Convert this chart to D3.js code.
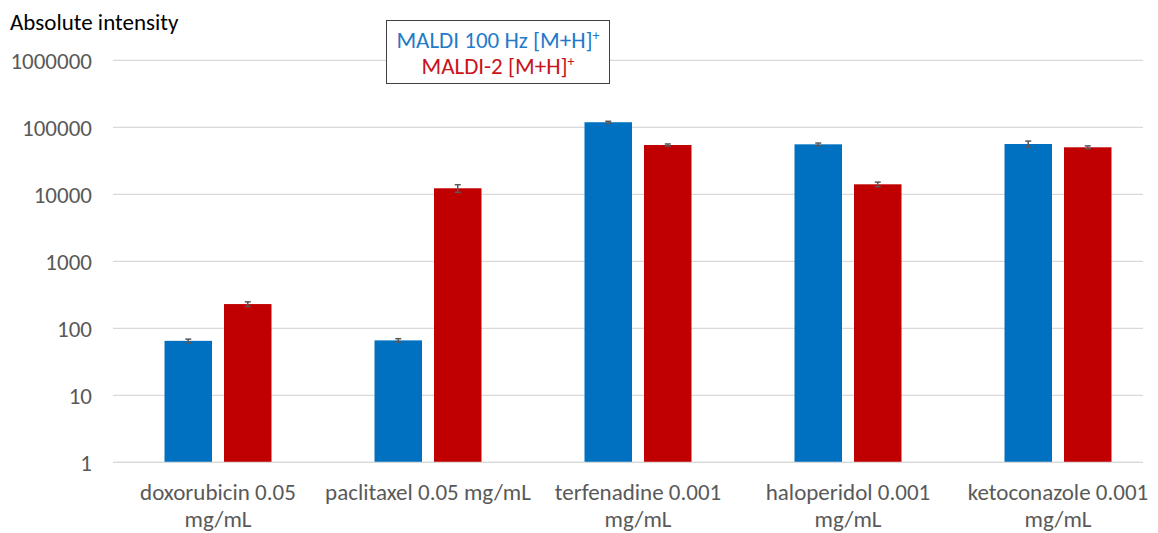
<!DOCTYPE html>
<html>
<head>
<meta charset="utf-8">
<script src="https://cdn.jsdelivr.net/npm/d3@7"></script>
<style>
  html, body { margin: 0; padding: 0; background: #fff; }
  svg { display: block; }
  text { font-family: Carlito, Lato, "Open Sans", sans-serif; }
</style>
</head>
<body>
<svg id="chart" width="1158" height="533"></svg>
<script>
// Compounds on the x axis (each entry is the label split into its lines)
const categories = [
  ["doxorubicin 0.05", "mg/mL"],
  ["paclitaxel 0.05 mg/mL"],
  ["terfenadine 0.001", "mg/mL"],
  ["haloperidol 0.001", "mg/mL"],
  ["ketoconazole 0.001", "mg/mL"]
];
const seriesNames = ["MALDI 100 Hz [M+H]", "MALDI-2 [M+H]"];
const seriesColors = ["#0070C0", "#C00000"];
const legendTextColors = ["#1F7BC9", "#C8141B"];

// Mean absolute intensities and their standard deviations
const maldiValues  = [65, 66, 119000, 55700, 56300];
const maldiErrors  = [4, 4, 4000, 2500, 6000];
const maldi2Values = [230, 12300, 54400, 14100, 50300];
const maldi2Errors = [18, 1600, 2000, 1100, 2500];

const yTicks = [1, 10, 100, 1000, 10000, 100000, 1000000];
const yTitle = "Absolute intensity";

const svg = d3.select("#chart");
const plot = { left: 113, right: 1163, top: 60.3, bottom: 462.3, gridEnd: 1143 };
const fontSize = 23;

const x = d3.scaleBand()
  .domain(d3.range(categories.length))
  .range([plot.left, plot.right]);

const xInner = d3.scaleBand()
  .domain(d3.range(seriesNames.length))
  .range([51.5, x.bandwidth() - 51.5])
  .paddingInner(0.2017);

const y = d3.scaleLog()
  .domain([1, 1000000])
  .range([plot.bottom, plot.top]);

// Horizontal gridlines
svg.append("g")
  .selectAll("line")
  .data(yTicks)
  .join("line")
  .attr("x1", plot.left)
  .attr("x2", plot.gridEnd)
  .attr("y1", d => y(d))
  .attr("y2", d => y(d))
  .attr("stroke", "#d9d9d9")
  .attr("stroke-width", 1.2);

// Y axis tick labels
const yAxis = d3.axisLeft(y)
  .tickValues(yTicks)
  .tickFormat(d3.format("d"))
  .tickSize(0)
  .tickPadding(0);
const yg = svg.append("g")
  .attr("transform", `translate(92,0)`)
  .call(yAxis);
yg.select(".domain").remove();
yg.selectAll("text")
  .attr("fill", "#595959")
  .style("font-size", fontSize + "px")
  .attr("dy", "0.35em");

// Y title
svg.append("text")
  .attr("x", 10)
  .attr("y", 30)
  .attr("fill", "#000")
  .style("font-size", fontSize + "px")
  .text(yTitle);

// Bars
const series = [
  { values: maldiValues, errors: maldiErrors },
  { values: maldi2Values, errors: maldi2Errors }
];

const rows = [];
categories.forEach((c, i) => {
  series.forEach((s, j) => {
    rows.push({ i, j, v: s.values[i], e: s.errors[i] });
  });
});

svg.append("g")
  .selectAll("rect")
  .data(rows)
  .join("rect")
  .attr("x", d => x(d.i) + xInner(d.j))
  .attr("width", xInner.bandwidth())
  .attr("y", d => y(d.v))
  .attr("height", d => y(1) - y(d.v))
  .attr("fill", d => seriesColors[d.j]);

// Error bars
const eg = svg.append("g")
  .attr("stroke", "#595959")
  .attr("stroke-width", 1.5);
rows.forEach(d => {
  const cx = x(d.i) + xInner(d.j) + xInner.bandwidth() / 2;
  const y0 = y(d.v + d.e), y1 = y(d.v - d.e);
  eg.append("line").attr("x1", cx).attr("x2", cx).attr("y1", y0).attr("y2", y1);
  eg.append("line").attr("x1", cx - 3).attr("x2", cx + 3).attr("y1", y0).attr("y2", y0);
  eg.append("line").attr("x1", cx - 3).attr("x2", cx + 3).attr("y1", y1).attr("y2", y1);
});

// Category axis line
svg.append("line")
  .attr("x1", plot.left)
  .attr("x2", plot.gridEnd)
  .attr("y1", y(1))
  .attr("y2", y(1))
  .attr("stroke", "#d9d9d9")
  .attr("stroke-width", 1.2);

// Category labels
const xl = svg.append("g");
categories.forEach((lines, i) => {
  const cx = x(i) + x.bandwidth() / 2;
  const t = xl.append("text")
    .attr("x", cx)
    .attr("y", 500)
    .attr("text-anchor", "middle")
    .attr("fill", "#595959")
    .style("font-size", fontSize + "px");
  lines.forEach((ln, k) => {
    t.append("tspan")
      .attr("x", cx)
      .attr("dy", k === 0 ? 0 : 27)
      .text(ln);
  });
});

// Legend box
const lg = svg.append("g");
lg.append("rect")
  .attr("x", 386.5)
  .attr("y", 20.5)
  .attr("width", 223)
  .attr("height", 63)
  .attr("fill", "#fff")
  .attr("stroke", "#404040")
  .attr("stroke-width", 1);
seriesNames.forEach((name, j) => {
  const t = lg.append("text")
    .attr("x", 498)
    .attr("y", 48 + j * 26)
    .attr("text-anchor", "middle")
    .attr("fill", legendTextColors[j])
    .style("font-size", fontSize + "px");
  t.append("tspan").text(name);
  t.append("tspan")
    .attr("dy", -8)
    .style("font-size", "14px")
    .text("+");
});
</script>
</body>
</html>
